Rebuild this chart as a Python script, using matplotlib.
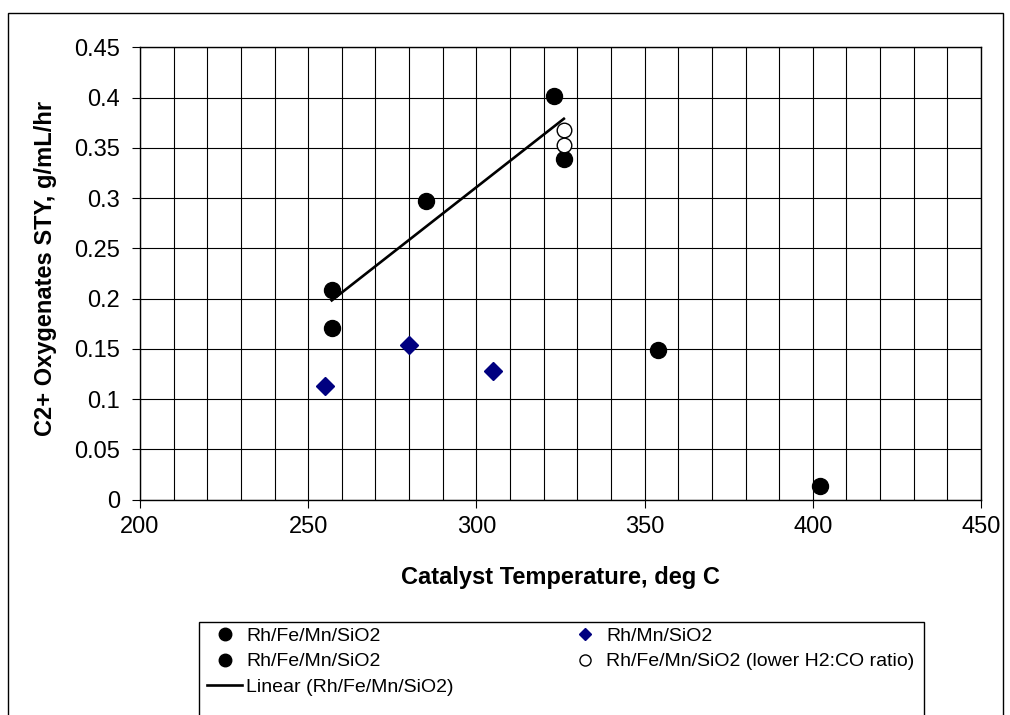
import numpy as np
import matplotlib
matplotlib.use("Agg")
import matplotlib.pyplot as plt
from matplotlib.lines import Line2D
from matplotlib.patches import Rectangle
from matplotlib.ticker import MultipleLocator

plt.rcParams["font.family"] = ["Liberation Sans", "DejaVu Sans"]

# ─── Data ──────────────────────────────────────────────────────────────
# Rh/Fe/Mn/SiO2, high-temperature runs (not in trend)
fe_hot_t   = [354, 402]
fe_hot_sty = [0.149, 0.014]

# Rh/Mn/SiO2
mn_t   = [255, 280, 305]
mn_sty = [0.113, 0.154, 0.128]

# Rh/Fe/Mn/SiO2, runs used for the linear trend
fe_t   = [257, 257, 285, 323, 326]
fe_sty = [0.209, 0.171, 0.297, 0.402, 0.339]

# Rh/Fe/Mn/SiO2 at lower H2:CO ratio
low_t   = [326, 326]
low_sty = [0.368, 0.353]

Y_TICKS = [0, 0.05, 0.1, 0.15, 0.2, 0.25, 0.3, 0.35, 0.4, 0.45]

NAVY = "#000080"

# ─── Figure ───────────────────────────────────────────────────────────
W, H = 1010, 715
fig = plt.figure(figsize=(W / 100, H / 100), dpi=100)
ax = fig.add_axes([140 / W, 1 - 499.7 / H, (981 - 140) / W, (499.7 - 47.3) / H])

ms = 11.5
ax.plot(fe_hot_t, fe_hot_sty, "o", color="black", ms=ms, zorder=4)
ax.plot(mn_t, mn_sty, "D", color=NAVY, ms=9.5, zorder=4)
ax.plot(fe_t, fe_sty, "o", color="black", ms=ms, zorder=4)
ax.plot(low_t, low_sty, "o", mfc="white", mec="black", mew=1.0, ms=10.5, zorder=5)

# linear trendline through the Rh/Fe/Mn/SiO2 fit points
slope, icpt = np.polyfit(fe_t, fe_sty, 1)
tx = np.array([min(fe_t), max(fe_t)])
ax.plot(tx, slope * tx + icpt, color="black", lw=1.9, zorder=3)

ax.set_xlim(200, 450)
ax.set_ylim(0, 0.45)
ax.xaxis.set_major_locator(MultipleLocator(50))
ax.xaxis.set_minor_locator(MultipleLocator(10))
ax.set_yticks(Y_TICKS)
ax.set_yticklabels([f"{v:g}" for v in Y_TICKS])
ax.grid(True, which="both", color="black", lw=0.8)
ax.tick_params(axis="x", which="minor", length=0)
ax.tick_params(which="major", direction="out", length=6, width=0.8,
               labelsize=17)
ax.tick_params(axis="x", pad=6)
ax.tick_params(axis="y", pad=8.5)
for s in ax.spines.values():
    s.set_linewidth(1.0)

ax.set_xlabel("Catalyst Temperature, deg C", fontsize=17, fontweight="bold")
ax.set_ylabel("C2+ Oxygenates STY, g/mL/hr", fontsize=17, fontweight="bold")
ax.xaxis.set_label_coords(0.5, (499.7 - 566) / 452.4)
ax.yaxis.set_label_coords((57 - 140) / 841, 0.512)

# outer chart-area border
fig.patches.append(Rectangle((8 / W, -0.01), (1003 - 8) / W, 1 - 12.7 / H + 0.01,
                             transform=fig.transFigure, fill=False,
                             edgecolor="black", lw=1.0))

# legend box (cut off at the bottom like the reference)
fig.patches.append(Rectangle((199 / W, -0.01), (924 - 199) / W, 1 - 622 / H + 0.01,
                             transform=fig.transFigure, fill=False,
                             edgecolor="black", lw=1.0))

leg_kw = dict(loc="upper left", frameon=False, fontsize=14,
              handlelength=1.8, handletextpad=0.2, labelspacing=0.42,
              borderaxespad=0, borderpad=0)

col1 = [
    (Line2D([], [], ls="none", marker="o", color="black", ms=9), "Rh/Fe/Mn/SiO2"),
    (Line2D([], [], ls="none", marker="o", color="black", ms=9), "Rh/Fe/Mn/SiO2"),
    (Line2D([], [], color="black", lw=1.9), "Linear (Rh/Fe/Mn/SiO2)"),
]
col2 = [
    (Line2D([], [], ls="none", marker="D", color=NAVY, ms=6.5), "Rh/Mn/SiO2"),
    (Line2D([], [], ls="none", marker="o", mfc="white", mec="black", ms=8),
     "Rh/Fe/Mn/SiO2 (lower H2:CO ratio)"),
]
fig.legend([h for h, _ in col1], [l for _, l in col1],
           bbox_to_anchor=(207 / W, 1 - 627 / H), **leg_kw)
fig.legend([h for h, _ in col2], [l for _, l in col2],
           bbox_to_anchor=(567 / W, 1 - 627 / H), **leg_kw)

fig.savefig("out.png", dpi=100)
